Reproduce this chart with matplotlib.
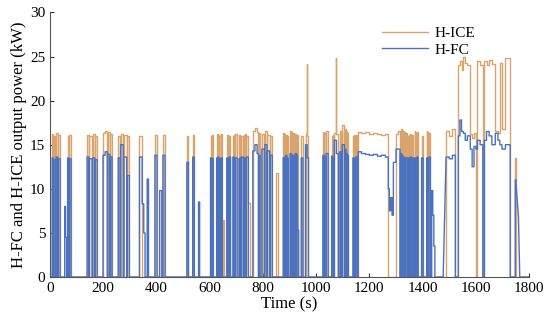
import numpy as np
import matplotlib.pyplot as plt

plt.rcParams['font.family'] = ['Liberation Serif', 'DejaVu Serif']

# operating segments: (t_start, t_end, H-ICE kW, H-FC kW)
# a value given as a pair ramps from the first to the second number
segments = [
    (8, 12, 16.2, 13.5), (14, 20, 16.0, 13.3), (23, 29, 16.3, 13.6), (31, 38, 16.1, 13.4),
    (55, 58, 0, 8.0), (58, 62, 0, 4.5),
    (66, 71, 16.0, 13.5), (73, 79, 16.1, 13.4),
    (139, 146, 16.1, 13.6), (148, 158, 16.0, 13.4), (160, 168, 16.2, 13.5), (170, 177, 16.0, 13.3),
    (199, 207, 16.3, 13.8), (207, 215, 16.6, 14.2), (217, 225, 16.4, 13.9), (227, 233, 16.2, 13.6),
    (256, 263, 16.0, 13.5), (265, 275, 16.2, 15.0), (277, 288, 16.1, 13.6), (290, 298, 16.0, 11.5),
    (336, 346, 16.0, 13.6), (346, 352, 0, 8.3), (352, 357, 0, 5.0),
    (365, 370, 0, 11.1),
    (394, 402, 16.1, 13.8),
    (412, 420, 0, 9.8),
    (424, 432, 16.1, 13.8),
    (514, 520, 16.0, 13.0),
    (536, 542, 16.1, 13.6),
    (558, 562, 0, 8.5),
    (603, 608, 16.0, 13.5), (609, 613, 16.1, 13.4),
    (626, 630, 16.2, 13.5), (631, 634, 16.1, 13.6), (636, 641, 16.0, 13.4), (642, 647, 16.2, 13.5),
    (648, 652, 6.5, 0),
    (664, 668, 16.1, 13.5), (669, 672, 16.0, 13.4), (673, 678, 16.0, 13.6),
    (687, 691, 16.0, 13.6), (692, 695, 16.1, 13.4), (696, 703, 16.2, 13.5),
    (710, 714, 16.1, 13.4), (715, 718, 16.0, 13.5), (719, 726, 16.0, 13.6),
    (728, 732, 16.1, 13.5), (733, 736, 16.2, 13.4), (737, 745, 16.0, 13.6), (745, 750, 8.4, 0),
    (762, 770, 16.5, 14.3), (770, 778, 16.9, 15.0), (778, 783, 16.4, 14.0), (784, 789, 16.3, 13.8),
    (796, 805, 16.2, 14.5), (807, 815, 16.5, 15.0), (817, 825, 16.1, 14.3), (827, 835, 16.0, 13.8),
    (850, 856, 11.8, 0),
    (876, 880, 16.3, 13.5), (881, 884, 16.2, 13.6), (886, 890, 16.1, 13.8), (891, 895, 16.0, 13.5),
    (902, 906, 16.5, 14.0), (907, 910, 16.4, 13.8), (912, 916, 16.3, 13.8), (917, 920, 16.2, 13.7),
    (922, 926, 16.2, 14.0), (927, 930, 16.1, 13.8), (930, 934, 0, 5.3),
    (944, 950, 16.0, 13.5),
    (960, 964, 16.2, 15.0), (964, 966, 24.2, 15.0), (966, 971, 16.0, 13.5),
    (1025, 1030, 16.4, 13.8), (1031, 1035, 16.3, 13.6), (1037, 1045, 16.6, 14.0),
    (1058, 1062, 16.0, 13.7), (1063, 1066, 16.1, 13.5), (1068, 1073, 16.3, 15.5), (1073, 1076, 24.8, 15.5),
    (1076, 1083, 16.2, 14.0),
    (1089, 1093, 16.5, 14.2), (1094, 1097, 16.4, 13.9), (1098, 1106, 17.2, 15.0), (1108, 1112, 16.8, 14.5),
    (1113, 1116, 16.5, 14.0), (1117, 1121, 16.3, 13.8),
    (1138, 1142, 16.0, 13.5), (1143, 1146, 16.1, 13.4), (1148, 1154, 16.1, 13.6),
    (1158, 1170, 16.4, 14.2), (1170, 1185, 16.3, 14.0), (1185, 1200, 16.4, 13.9), (1200, 1215, 16.2, 13.8),
    (1215, 1230, 16.3, 13.9), (1230, 1245, 16.2, 13.7), (1245, 1260, 16.1, 13.8), (1260, 1271, 16.2, 13.6),
    (1271, 1275, 0, 10.0), (1275, 1280, 0, 7.5), (1280, 1285, 0, 9.0), (1285, 1290, 0, 7.0),
    (1290, 1300, 0, 13.0), (1300, 1308, 16.2, 14.5),
    (1308, 1315, 16.5, 14.5), (1317, 1321, 16.8, 14.0), (1322, 1325, 16.6, 13.8), (1327, 1331, 16.5, 13.6),
    (1332, 1335, 16.4, 13.5), (1337, 1343, 16.3, 13.5),
    (1346, 1349, 16.0, 13.5), (1350, 1352, 16.1, 13.4), (1354, 1358, 16.2, 13.6), (1359, 1365, 16.1, 13.5),
    (1370, 1373, 16.5, 13.5), (1374, 1376, 16.3, 13.4), (1378, 1383, 16.4, 13.6),
    (1396, 1402, 16.0, 13.5),
    (1415, 1418, 16.5, 13.5), (1419, 1421, 16.4, 13.4), (1423, 1429, 16.3, 13.6),
    (1434, 1438, 0, 9.8), (1438, 1442, 0, 7.0), (1442, 1446, 0, 3.5),
    (1477, 1488, 0, (0, 13.5)), (1488, 1500, 16.6, 13.6), (1500, 1512, 16.0, 13.4), (1512, 1523, 16.8, 13.8),
    (1534, 1540, 24.0, 16.0), (1540, 1546, 24.5, 17.8), (1546, 1553, 23.5, 16.5),
    (1553, 1560, 24.9, 16.3), (1560, 1568, 24.3, 15.5), (1568, 1579, 24.0, 16.0),
    (1579, 1586, 16.2, 14.5), (1586, 1593, 15.8, 12.5), (1593, 1600, 16.3, 14.8),
    (1600, 1606, 0, 14.5), (1606, 1616, 24.5, 15.5), (1616, 1626, 24.0, 15.0),
    (1632, 1640, 24.5, 15.5), (1640, 1650, 24.0, 16.5), (1650, 1660, 24.6, 16.0), (1660, 1673, 24.2, 15.0),
    (1673, 1683, 16.5, 16.3), (1683, 1690, 16.3, 15.5), (1690, 1698, 24.3, 15.0), (1698, 1711, 16.8, 14.5),
    (1711, 1729, 24.8, 15.0),
    (1748, 1751, 13.5, 11.0), (1751, 1760, 0, (10.5, 6.8)), (1760, 1765, 0, (6.8, 0)),
]


def build(col):
    t, v = [0], [0]
    for seg in segments:
        t0, t1, val = seg[0], seg[1], seg[col]
        a, b = val if isinstance(val, tuple) else (val, val)
        if t0 > t[-1]:
            t += [t[-1], t0]
            v += [0, 0]
        t += [t0, t1]
        v += [a, b]
    t += [t[-1], 1800]
    v += [0, 0]
    return np.array(t), np.array(v)


t_ice, p_ice = build(2)
t_fc, p_fc = build(3)

fig = plt.figure(figsize=(5.5, 3.27), dpi=100)
ax = fig.add_axes([0.091, 0.153, 0.871, 0.809])

ax.plot(t_ice, p_ice, color='#D8A46C', lw=1.0, label='H-ICE')
ax.plot(t_fc, p_fc, color='#4A72C0', lw=1.0, label='H-FC')

ax.set_xlim(0, 1800)
ax.set_ylim(0, 30)
ax.set_xticks(range(0, 1801, 200))
ax.set_yticks(range(0, 31, 5))
ax.tick_params(direction='in', labelsize=11, length=3, colors='#333333', labelcolor='black')
for s in ['top', 'right']:
    ax.spines[s].set_visible(False)
for s in ['left', 'bottom']:
    ax.spines[s].set_color('#555555')

ax.set_xlabel('Time (s)', fontsize=12, labelpad=1)
ax.set_ylabel('H-FC and H-ICE output power (kW)', fontsize=12, labelpad=2)
ax.legend(loc='upper center', bbox_to_anchor=(0.79, 1.0), frameon=False, fontsize=11,
          handlelength=3.0, handletextpad=0.4, labelspacing=0.2)

fig.savefig('out.png', dpi=100)
